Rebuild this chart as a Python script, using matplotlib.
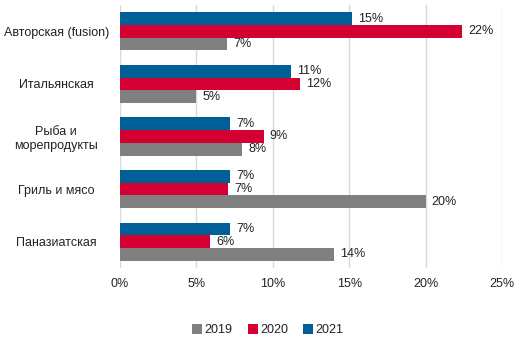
import numpy as np
import matplotlib
matplotlib.use("Agg")
import matplotlib.pyplot as plt
from matplotlib.ticker import FuncFormatter

plt.rcParams['font.family'] = ['Liberation Sans', 'DejaVu Sans']

categories = ["Авторская (fusion)", "Итальянская", "Рыба и\nморепродукты",
              "Гриль и мясо", "Паназиатская"]
years = ["2019", "2020", "2021"]
share_2019 = [7.0, 5.0, 8.0, 20.0, 14.0]
share_2020 = [22.4, 11.8, 9.4, 7.1, 5.9]
share_2021 = [15.2, 11.2, 7.2, 7.2, 7.2]
colors = ["#808080", "#D50032", "#005F96"]

fig = plt.figure(figsize=(5.25, 3.42), dpi=100)
ax = fig.add_axes([0.2286, 0.2164, 0.7274, 0.769])

y = np.arange(len(categories))
h = 0.243
series = [share_2019, share_2020, share_2021]
offsets = [h, 0, -h]  # 2021 on top, 2019 at the bottom

for vals, off, col, yr in zip(series, offsets, colors, years):
    bars = ax.barh(y + off, vals, height=h, color=col, label=yr, zorder=3)
    for b, v in zip(bars, vals):
        ax.text(v + 0.4, b.get_y() + b.get_height() / 2, f"{v:.0f}%",
                va='center', ha='left', fontsize=9, color='#222222')

ax.set_xlim(0, 25)
ax.set_ylim(len(categories) - 0.5, -0.5)
ax.set_xticks(np.arange(0, 26, 5))
ax.xaxis.set_major_formatter(FuncFormatter(lambda v, p: f"{v:.0f}%"))
ax.set_yticks(y)
ax.set_yticklabels(categories, ha='center', multialignment='center')
ax.tick_params(axis='y', length=0, pad=46, labelsize=9, labelcolor='#222222')
ax.tick_params(axis='x', length=0, pad=7, labelsize=9, labelcolor='#222222')
ax.grid(axis='x', color='#d9d9d9', linewidth=1, zorder=0)
for s in ax.spines.values():
    s.set_visible(False)

handles, labels = ax.get_legend_handles_labels()
fig.legend(handles, labels, loc='center', bbox_to_anchor=(0.51, 0.035), ncol=3,
           frameon=False, fontsize=9, handlelength=0.8, handleheight=0.8,
           handletextpad=0.2, columnspacing=1.2, labelcolor='#222222')

fig.savefig("out.png", dpi=100)
